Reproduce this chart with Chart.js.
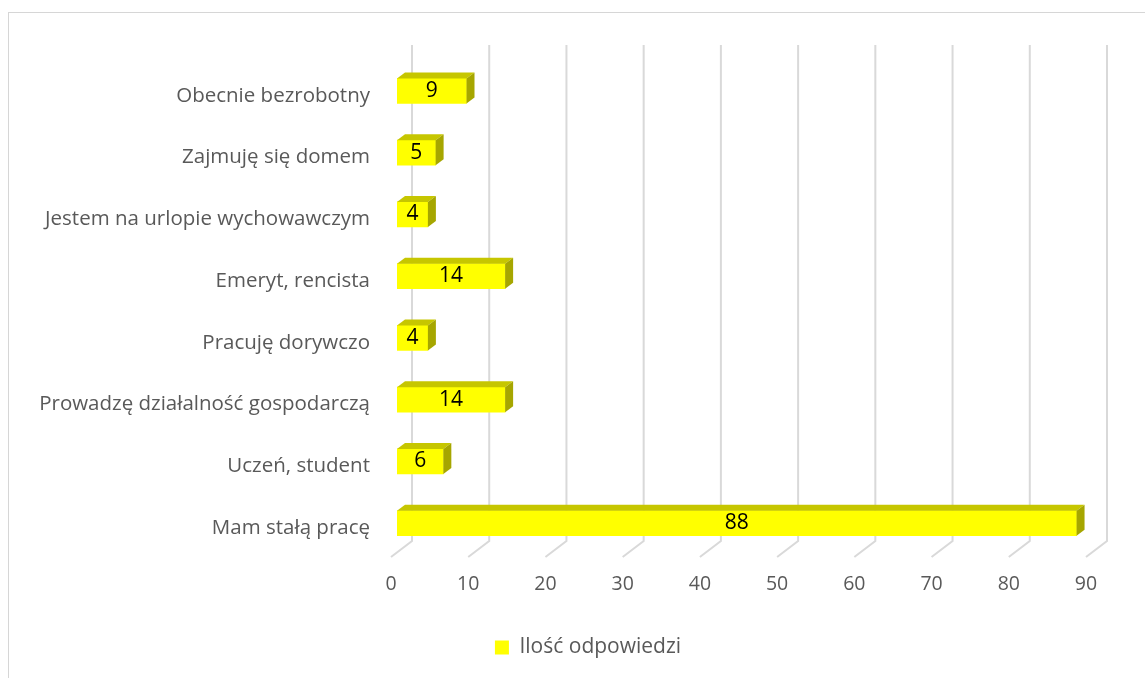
<!DOCTYPE html>
<html>
<head>
<meta charset="utf-8">
<script src="https://cdn.jsdelivr.net/npm/chart.js@4.4.0/dist/chart.umd.min.js"></script>
<style>
  html, body { margin: 0; padding: 0; background: #fff; overflow: hidden; }
  #ramka { position: absolute; left: 8px; top: 12px; width: 1200px; height: 700px;
           border-left: 1px solid #d6d6d6; border-top: 1px solid #d6d6d6; }
  #box { position: absolute; left: 0; top: 0; width: 1176px; height: 678px; }
</style>
</head>
<body>
<div id="ramka"></div>
<div id="box"><canvas id="myChart"></canvas></div>
<script>
// kategorie i wartości (od góry do dołu)
const kategorie = [
  "Obecnie bezrobotny",
  "Zajmuję się domem",
  "Jestem na urlopie wychowawczym",
  "Emeryt, rencista",
  "Pracuję dorywczo",
  "Prowadzę działalność gospodarczą",
  "Uczeń, student",
  "Mam stałą pracę"
];
const odpowiedzi = [9, 5, 4, 14, 4, 14, 6, 88];
const nazwaSerii = "Ilość odpowiedzi";
const osX = { min: 0, max: 90, krok: 10 };

const FONT = "'Open Sans', sans-serif";
const SZARY = "#595959";

// siatka "3D" - tylna ściana + skos na podłodze
const siatka3d = {
  id: "siatka3d",
  beforeDatasetsDraw(chart) {
    const ctx = chart.ctx;
    const sx = chart.scales.x;
    ctx.save();
    ctx.strokeStyle = "#d9d9d9";
    ctx.lineWidth = 2;
    for (let v = osX.min; v <= osX.max; v += osX.krok) {
      const px = sx.getPixelForValue(v);
      ctx.beginPath();
      ctx.moveTo(px + 15, 45);
      ctx.lineTo(px + 15, 541);
      ctx.lineTo(px - 6, 557);
      ctx.stroke();
    }
    ctx.restore();
  }
};

// górna i boczna ściana słupka + etykiety
const slupki3d = {
  id: "slupki3d",
  afterDatasetsDraw(chart) {
    const ctx = chart.ctx;
    const meta = chart.getDatasetMeta(0);
    ctx.save();
    meta.data.forEach((bar, i) => {
      const p = bar.getProps(["x", "y", "base", "height"], true);
      const top = p.y - p.height / 2;
      const bottom = p.y + p.height / 2;
      const dx = 8, dy = 6;
      ctx.fillStyle = "#c6c600";
      ctx.beginPath();
      ctx.moveTo(p.base, top);
      ctx.lineTo(p.x, top);
      ctx.lineTo(p.x + dx, top - dy);
      ctx.lineTo(p.base + dx, top - dy);
      ctx.closePath();
      ctx.fill();
      ctx.fillStyle = "#a6a600";
      ctx.beginPath();
      ctx.moveTo(p.x, top);
      ctx.lineTo(p.x + dx, top - dy);
      ctx.lineTo(p.x + dx, bottom - dy);
      ctx.lineTo(p.x, bottom);
      ctx.closePath();
      ctx.fill();
      // wartość
      ctx.fillStyle = "#000";
      ctx.font = "21px " + FONT;
      ctx.textAlign = "center";
      ctx.textBaseline = "middle";
      ctx.fillText(String(odpowiedzi[i]), (p.base + p.x) / 2, p.y);
    });
    ctx.restore();
  }
};

// legenda wyśrodkowana jak w oryginale (przesunięta w prawo)
const legendaSrodek = {
  id: "legendaSrodek",
  afterLayout(chart) {
    if (chart.legend) chart.legend.left += 84;
  }
};

const ctx = document.querySelector("#myChart").getContext("2d");

new Chart(ctx, {
  type: "bar",
  data: {
    labels: kategorie,
    datasets: [{
      label: nazwaSerii,
      data: odpowiedzi,
      backgroundColor: "#ffff00",
      barThickness: 25
    }]
  },
  options: {
    indexAxis: "y",
    responsive: true,
    maintainAspectRatio: false,
    animation: false,
    layout: { padding: { left: 0, right: 84, top: 60, bottom: 10 } },
    scales: {
      x: {
        min: osX.min,
        max: osX.max,
        grid: { display: false },
        border: { display: false },
        ticks: {
          stepSize: osX.krok,
          color: SZARY,
          font: { family: FONT, size: 19.5 },
          padding: 11,
          labelOffset: -6
        },
        afterFit(scale) { scale.height = 75; }
      },
      y: {
        grid: { display: false },
        border: { display: false },
        ticks: {
          color: SZARY,
          font: { family: FONT, size: 20.5 },
          padding: 19,
          labelOffset: 5
        },
        afterFit(scale) { scale.width = 397; }
      }
    },
    plugins: {
      legend: {
        position: "bottom",
        labels: {
          color: SZARY,
          font: { family: FONT, size: 21 },
          boxWidth: 14,
          boxHeight: 14,
          padding: 8
        }
      },
      tooltip: { enabled: false }
    }
  },
  plugins: [siatka3d, slupki3d, legendaSrodek]
});
</script>
</body>
</html>
